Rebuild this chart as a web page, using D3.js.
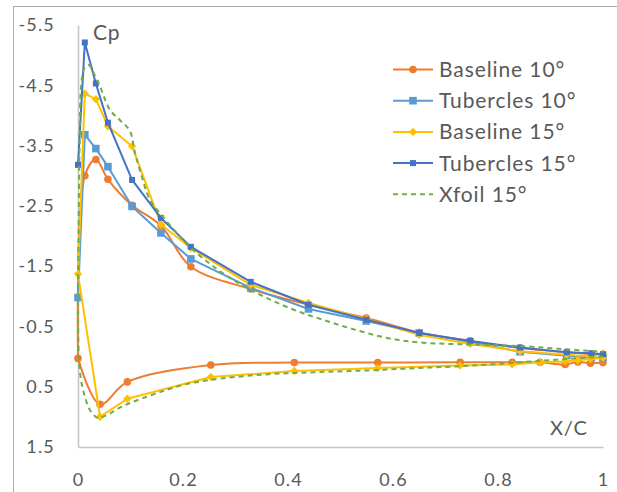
<!DOCTYPE html>
<html>
<head>
<meta charset="utf-8">
<script src="https://cdn.jsdelivr.net/npm/d3@7"></script>
<style>
  html, body { margin: 0; padding: 0; background: #ffffff; }
  svg { display: block; font-family: Lato, "Open Sans", sans-serif; }
</style>
</head>
<body>
<script>
// Pressure coefficient distributions, chordwise station x/c
const upperX = [0.013, 0.034, 0.057, 0.103, 0.158, 0.215, 0.329, 0.439, 0.549, 0.65, 0.747, 0.842, 0.931, 0.978, 1.0];
const lowerX = [0.042, 0.094, 0.253, 0.412, 0.571, 0.728, 0.827, 0.88, 0.928, 0.952, 0.976, 1.0];

const baseline10LE = 0.03;
const baseline10Upper = [-3.0, -3.27, -2.94, -2.51, -2.17, -1.49, -1.12, -0.86, -0.64, -0.40, -0.26, -0.14, -0.07, -0.04, -0.03];
const baseline10Lower = [0.79, 0.42, 0.14, 0.10, 0.10, 0.095, 0.095, 0.095, 0.13, 0.09, 0.11, 0.10];

const tubercles10LE = -0.98;
const tubercles10Upper = [-3.68, -3.45, -3.15, -2.49, -2.05, -1.62, -1.14, -0.79, -0.59, -0.39, -0.24, -0.08, -0.015, 0.02, 0.02];

const baseline15LE = -1.37;
const baseline15Upper = [-4.36, -4.27, -3.82, -3.49, -2.19, -1.80, -1.19, -0.89, -0.62, -0.36, -0.21, -0.09, -0.03, 0.0, -0.05];
const baseline15Lower = [1.0, 0.70, 0.34, 0.24, 0.19, 0.15, 0.13, 0.095, 0.08, 0.06, 0.04, 0.02];

const tubercles15LE = -3.18;
const tubercles15Upper = [-5.21, -4.53, -3.88, -2.93, -2.30, -1.82, -1.24, -0.86, -0.61, -0.39, -0.26, -0.15, -0.07, -0.055, -0.04];

// XFOIL prediction: lower surface trailing edge -> leading edge, then upper surface -> trailing edge
const xfoilX = [1.0, 0.93, 0.85, 0.75, 0.65, 0.55, 0.45, 0.35, 0.25, 0.2, 0.156, 0.12, 0.094, 0.075, 0.06, 0.047, 0.038, 0.029, 0.02, 0.013, 0.007, 0.003, 0.001,
                0.0, 0.001, 0.003, 0.006, 0.012, 0.02, 0.03, 0.042, 0.061, 0.08, 0.099, 0.108, 0.118, 0.137, 0.156, 0.185, 0.215, 0.27, 0.33, 0.41, 0.467, 0.53, 0.594, 0.657, 0.75, 0.85, 0.93, 1.0];
const xfoilCp = [0.0, 0.04, 0.09, 0.15, 0.19, 0.23, 0.26, 0.30, 0.39, 0.47, 0.59, 0.70, 0.79, 0.87, 0.95, 1.0, 1.02, 0.96, 0.84, 0.66, 0.45, 0.2, -0.1,
                 -0.8, -2.0, -3.5, -4.5, -4.78, -4.84, -4.7, -4.48, -4.09, -3.92, -3.74, -3.4, -3.09, -2.6, -2.38, -2.08, -1.80, -1.42, -1.1, -0.78, -0.61, -0.44, -0.30, -0.23, -0.20, -0.17, -0.12, -0.08];

const seriesNames = ["Baseline 10°", "Tubercles 10°", "Baseline 15°", "Tubercles 15°", "Xfoil 15°"];
const seriesColors = ["#ED7D31", "#5B9BD5", "#FFC000", "#4472C4", "#70AD47"];

const xTicks = [0, 0.2, 0.4, 0.6, 0.8, 1];
const xTickLabels = ["0", "0.2", "0.4", "0.6", "0.8", "1"];
const yTicks = [-5.5, -4.5, -3.5, -2.5, -1.5, -0.5, 0.5, 1.5];
const yTickLabels = ["-5.5", "-4.5", "-3.5", "-2.5", "-1.5", "-0.5", "0.5", "1.5"];

// ---- assemble point sequences ----
function zipPts(xs, ys) { return xs.map((x, i) => ({ x: x, cp: ys[i] })); }
// each surface is its own stroke segment, both meeting at the leading edge
function baselineSegs(le, upper, lower) {
  const lePt = { x: 0, cp: le };
  return [
    zipPts(upperX, upper).reverse().concat([lePt]),
    [lePt].concat(zipPts(lowerX, lower))
  ];
}
function tubercleSegs(le, upper) {
  return [[{ x: 0, cp: le }].concat(zipPts(upperX, upper))];
}

const series = [
  { name: seriesNames[0], color: seriesColors[0], segs: baselineSegs(baseline10LE, baseline10Upper, baseline10Lower), marker: "circle", smooth: true },
  { name: seriesNames[1], color: seriesColors[1], segs: tubercleSegs(tubercles10LE, tubercles10Upper), marker: "bigSquare", smooth: false },
  { name: seriesNames[2], color: seriesColors[2], segs: baselineSegs(baseline15LE, baseline15Upper, baseline15Lower), marker: "diamond", smooth: false },
  { name: seriesNames[3], color: seriesColors[3], segs: tubercleSegs(tubercles15LE, tubercles15Upper), marker: "smallSquare", smooth: false },
  { name: seriesNames[4], color: seriesColors[4], segs: [zipPts(xfoilX, xfoilCp)], marker: null, smooth: true, dashed: true }
];

// ---- layout ----
const W = 617, H = 492;
const svg = d3.select("body").append("svg").attr("width", W).attr("height", H);

const x = d3.scaleLinear().domain([0, 1]).range([78, 603]);
const y = d3.scaleLinear().domain([-5.5, 1.5]).range([25, 447]);

// outer chart frame
svg.append("rect")
  .attr("x", 13.5).attr("y", 6.5)
  .attr("width", 700).attr("height", 600)
  .attr("fill", "none").attr("stroke", "#ababab").attr("stroke-width", 1);

// axes
const axisColor = "#c6c6c6";
const textColor = "#595959";

const yAxis = svg.append("g")
  .attr("transform", `translate(${x(0)},0)`)
  .call(d3.axisLeft(y).tickValues(yTicks).tickSize(0).tickPadding(23)
    .tickFormat((d, i) => yTickLabels[i]));

const xAxis = svg.append("g")
  .attr("transform", `translate(0,${y(1.5)})`)
  .call(d3.axisBottom(x).tickValues(xTicks).tickSize(0).tickPadding(26)
    .tickFormat((d, i) => xTickLabels[i]));

[yAxis, xAxis].forEach(g => {
  g.select(".domain").attr("stroke", axisColor).attr("stroke-width", 1.6);
  g.selectAll("text").attr("fill", textColor).style("font-size", "18px")
    .style("letter-spacing", "1.2px").style("font-family", "Lato, sans-serif");
});

// marker shapes
function drawMarker(g, type, color, cx, cy) {
  if (type === "circle") {
    g.append("circle").attr("cx", cx).attr("cy", cy).attr("r", 3.8).attr("fill", color);
  } else if (type === "bigSquare") {
    g.append("rect").attr("x", cx - 3.8).attr("y", cy - 3.8).attr("width", 7.6).attr("height", 7.6).attr("fill", color);
  } else if (type === "smallSquare") {
    g.append("rect").attr("x", cx - 3).attr("y", cy - 3).attr("width", 6).attr("height", 6).attr("fill", color);
  } else if (type === "diamond") {
    const r = 4.2;
    g.append("path").attr("d", `M${cx},${cy - r}L${cx + r},${cy}L${cx},${cy + r}L${cx - r},${cy}Z`).attr("fill", color);
  }
}

// series
const plot = svg.append("g");
series.forEach(s => {
  const g = plot.append("g");
  const line = d3.line().x(d => x(d.x)).y(d => y(d.cp))
    .curve(s.smooth ? d3.curveCatmullRom.alpha(0.5) : d3.curveLinear);
  s.segs.forEach(seg => {
    g.append("path").datum(seg).attr("d", line)
      .attr("fill", "none").attr("stroke", s.color).attr("stroke-width", 2)
      .attr("stroke-linejoin", "round")
      .attr("stroke-dasharray", s.dashed ? "5,4" : null);
  });
  if (s.marker) {
    const seen = new Set();
    s.segs.flat().forEach(p => {
      const key = p.x + "," + p.cp;
      if (seen.has(key)) return;
      seen.add(key);
      drawMarker(g, s.marker, s.color, x(p.x), y(p.cp));
    });
  }
});

// axis titles
svg.append("text").attr("x", 93).attr("y", 40).text("Cp")
  .attr("fill", textColor).style("font-size", "21px").style("letter-spacing", "0.8px");
svg.append("text").attr("x", 550).attr("y", 435).text("X/C")
  .attr("fill", textColor).style("font-size", "20px").style("letter-spacing", "0.8px");

// legend
const legend = svg.append("g");
series.forEach((s, i) => {
  const cy = 69.5 + i * 31.2;
  legend.append("line").attr("x1", 393).attr("x2", 433).attr("y1", cy).attr("y2", cy)
    .attr("stroke", s.color).attr("stroke-width", 2)
    .attr("stroke-dasharray", s.dashed ? "5,4" : null);
  if (s.marker) drawMarker(legend, s.marker, s.color, 413, cy);
  legend.append("text").attr("x", 439).attr("y", cy).attr("dy", "0.36em").text(s.name)
    .attr("fill", textColor).style("font-size", "21px").style("letter-spacing", "0.9px");
});
</script>
</body>
</html>
